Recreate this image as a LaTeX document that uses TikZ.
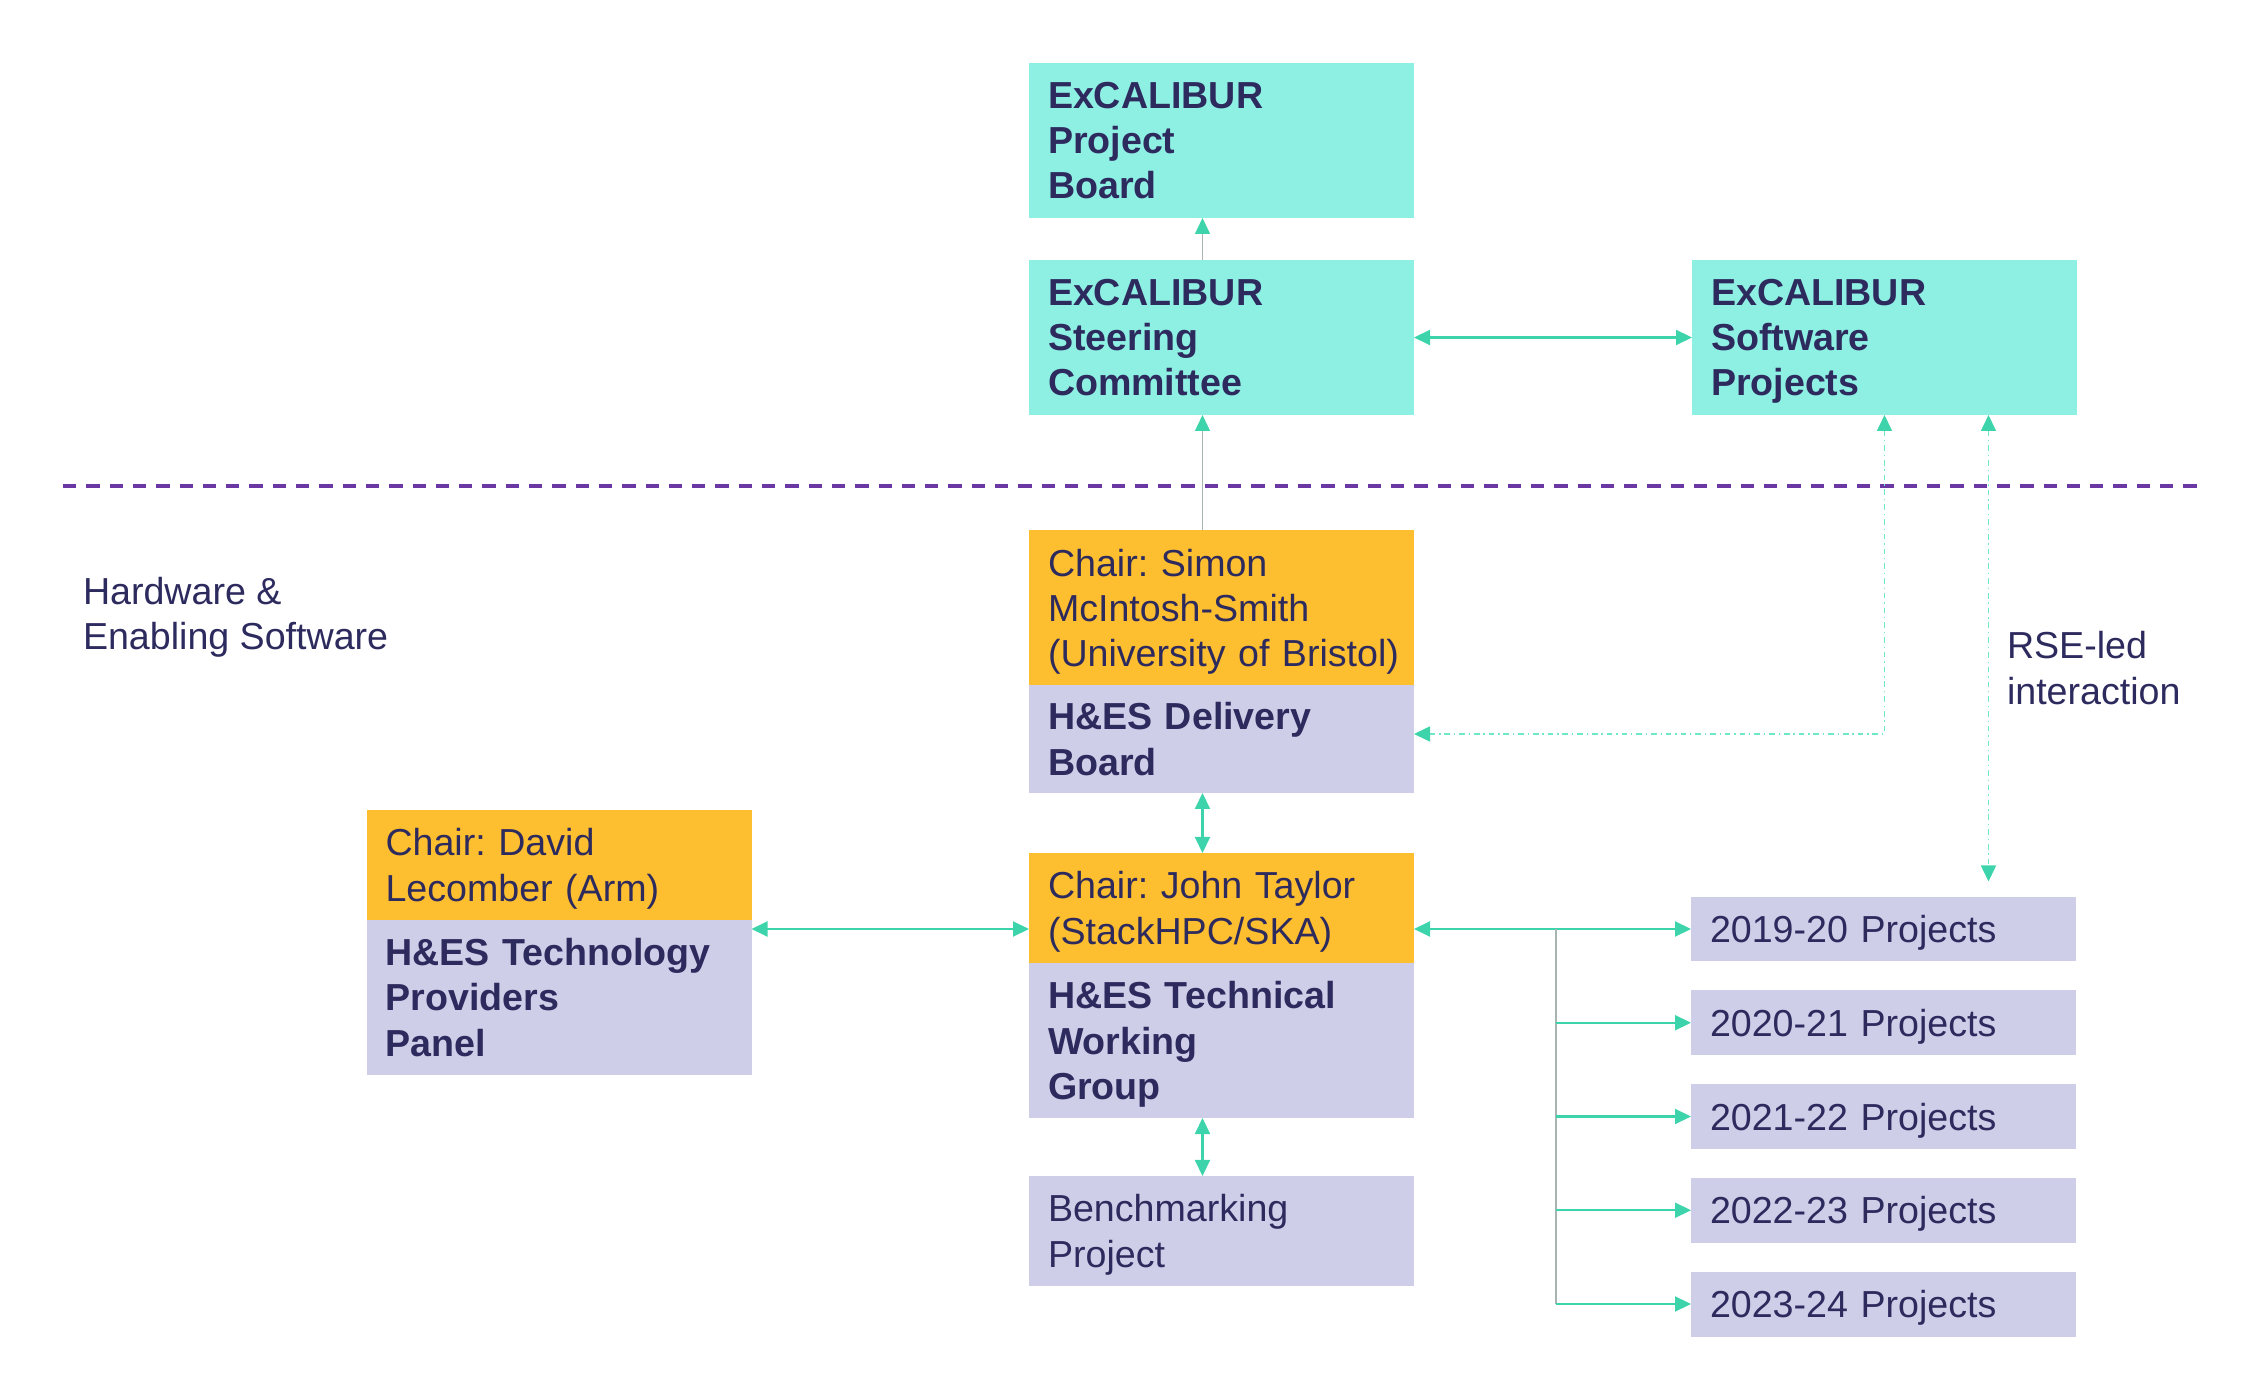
\documentclass[tikz,border=0pt]{standalone}
\usepackage{fontspec}
\setmainfont{Liberation Sans}
\usetikzlibrary{positioning,arrows.meta}

\definecolor{exteal}{HTML}{8EEFE3}
\definecolor{exchair}{HTML}{FDBE2F}
\definecolor{exlav}{HTML}{CECEE8}
\definecolor{exnavy}{HTML}{2D2A5E}
\definecolor{exgreen}{HTML}{3ED4AB}
\definecolor{exdash}{HTML}{6FE8C8}
\definecolor{exgray}{HTML}{A8B4B0}
\definecolor{expurple}{HTML}{6B37A3}
\newcommand{\exfont}{\fontsize{10.7pt}{12.9pt}\selectfont\frenchspacing}

\begin{document}
\begin{tikzpicture}
[every node/.style={inner sep=0mm,outer sep=0mm,text=exnavy,font=\exfont},
 >={Triangle[length=1.6mm,width=1.5mm]},
 box/.style={text width=3.47cm,inner xsep=1.9mm,align=left},
 top/.style={box,fill=exteal,minimum height=1.55cm,font=\exfont\bfseries},
 chair/.style={box,fill=exchair},
 body/.style={box,fill=exlav,font=\exfont\bfseries},
 proj/.style={box,fill=exlav,minimum height=0.65cm,text depth=0pt},
 note/.style={align=left},
 link/.style={draw=exgreen,line width=0.6pt,<->},
 feed/.style={draw=exgreen,line width=0.6pt,->},
 up/.style={draw=exgray,line width=0.4pt,-{>[color=exgreen]}},
 trunk/.style={draw=exgray,line width=0.4pt},
 rse/.style={draw=exdash,line width=0.45pt,dash pattern=on 1.6pt off 1.1pt on 0.4pt off 1.1pt,{<[color=exgreen]}-{>[color=exgreen]}},
 divider/.style={draw=expurple,line width=0.95pt,dash pattern=on 0.133cm off 0.1cm}]
\useasboundingbox (0,0) rectangle (22.56,-13.86);
% upper part
\node[top] (board) at (12.215,-1.405)                 {ExCALIBUR\\Project\\Board};
\node[top] (steer)    [on grid,below=1.97cm of board] {ExCALIBUR\\Steering\\Committee};
\node[top] (software) [on grid,right=6.63cm of steer] {ExCALIBUR\\Software\\\smash{Projects}};
\coordinate (divL) at (0.63,-4.86);
\coordinate (divR) at (22.02,-4.86);
\draw[divider] (divL) -- (divR);
% lower part
\node[chair,minimum height=1.55cm] (simon)    [on grid,below=2.705cm of steer]  {Chair: Simon\\McIntosh-Smith\\\smash{\mbox{(University of Bristol)}}};
\node[body,minimum height=1.08cm]  (delivery) [on grid,below=1.31cm of simon]   {H\&ES Delivery\\Board};
\node[chair,minimum height=1.10cm] (john)     [on grid,below=1.69cm of delivery] {Chair: John Taylor\\\smash{(StackHPC/SKA)}};
\node[body,minimum height=1.55cm]  (twg)      [on grid,below=1.325cm of john]   {H\&ES Technical\\Working\\\smash{Group}};
\node[box,fill=exlav,minimum height=1.10cm] (bench) [on grid,below=1.905cm of twg] {Benchmarking\\\smash{Project}};
\node[chair,minimum height=1.10cm] (david)    [on grid,above left=0.43cm and 6.625cm of john] {Chair: David\\\smash{Lecomber (Arm)}};
\node[body,minimum height=1.55cm]  (panel)    [on grid,below=1.325cm of david]  {H\&ES Technology\\Providers\\Panel};
\node[proj] (p1) [on grid,below right=0.21cm and 6.62cm of john] {2019-20 Projects};
\node[proj] (p2) [on grid,below=0.9375cm of p1] {2020-21 Projects};
\node[proj] (p3) [on grid,below=0.9375cm of p2] {2021-22 Projects};
\node[proj] (p4) [on grid,below=0.9375cm of p3] {2022-23 Projects};
\node[proj] (p5) [on grid,below=0.9375cm of p4] {2023-24 Projects};
\node[note,anchor=west] (hes)  at (0.83,-6.175) {Hardware \&\\Enabling Software};
\node[note,anchor=west] (rsel) at (20.07,-6.68) {RSE-led\\interaction};
% connectors
\coordinate (spine)  at ([xshift=-1.9mm]board.south);
\coordinate (rseTop) at ([xshift=1.04cm]software.south);
\coordinate (rseEnd) at ([yshift=0.5mm]delivery.east);
\coordinate (fork)   at ([xshift=1.42cm]john.east |- p1.west);
\draw[up]   (spine |- steer.north) -- (spine |- board.south);
\draw[up]   (spine |- simon.north) -- (spine |- steer.south);
\draw[link] (steer.east) -- (software.west);
\draw[link] (spine |- delivery.south) -- (spine |- john.north);
\draw[link] (spine |- twg.south) -- (spine |- bench.north);
\draw[link] (david.east |- p1.west) -- (john.west |- p1.west);
\draw[link] (john.east |- p1.west) -- (p1.west);
\draw[trunk] (fork) -- (fork |- p5.west);
\foreach \i in {2,...,5}
  \draw[feed] (fork |- p\i.west) -- (p\i.west);
\draw[rse] (rseEnd) -| (software.south);
\draw[rse,shorten >=1.5mm] (rseTop) -- (rseTop |- p1.north);
\end{tikzpicture}
\end{document}
